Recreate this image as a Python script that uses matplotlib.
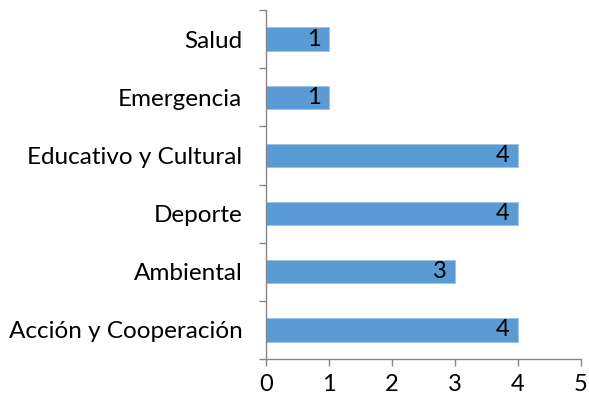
import matplotlib
matplotlib.use("Agg")
import matplotlib.pyplot as plt

categories = ["Acción y Cooperación", "Ambiental", "Deporte",
              "Educativo y Cultural", "Emergencia", "Salud"]
values = [4, 3, 4, 4, 1, 1]

plt.rcParams['font.family'] = ['Lato', 'DejaVu Sans']

fig = plt.figure(figsize=(5.89, 4.04), dpi=100)
ax = fig.add_axes([266 / 589, 1 - 359 / 404, 315 / 589, 349 / 404])

pos = range(len(categories))
bars = ax.barh(pos, values, height=0.4, color="#5B9BD5", edgecolor="#9DC3E6", linewidth=0.6)

for b, v in zip(bars, values):
    ax.annotate(str(v), (v, b.get_y() + b.get_height() / 2),
                xytext=(-6, 0), textcoords="offset points",
                ha="right", va="center", fontsize=17, color="black")

ax.set_xlim(0, 5)
ax.set_ylim(-0.5, len(categories) - 0.5)
ax.set_xticks(range(6))
ax.set_yticks([p - 0.5 for p in range(len(categories) + 1)], minor=False)
ax.set_yticklabels([])
ax.set_yticks(list(pos), minor=True)
ax.set_yticklabels(categories, minor=True)

ax.tick_params(axis="y", which="major", length=5, color="#868686", width=1)
ax.tick_params(axis="y", which="minor", length=0, pad=17, labelsize=17.5)
ax.tick_params(axis="x", length=5, color="#868686", width=1, labelsize=17, pad=6)

for s in ["top", "right"]:
    ax.spines[s].set_visible(False)
for s in ["left", "bottom"]:
    ax.spines[s].set_color("#868686")
    ax.spines[s].set_linewidth(1)

fig.savefig("out.png", dpi=100)
